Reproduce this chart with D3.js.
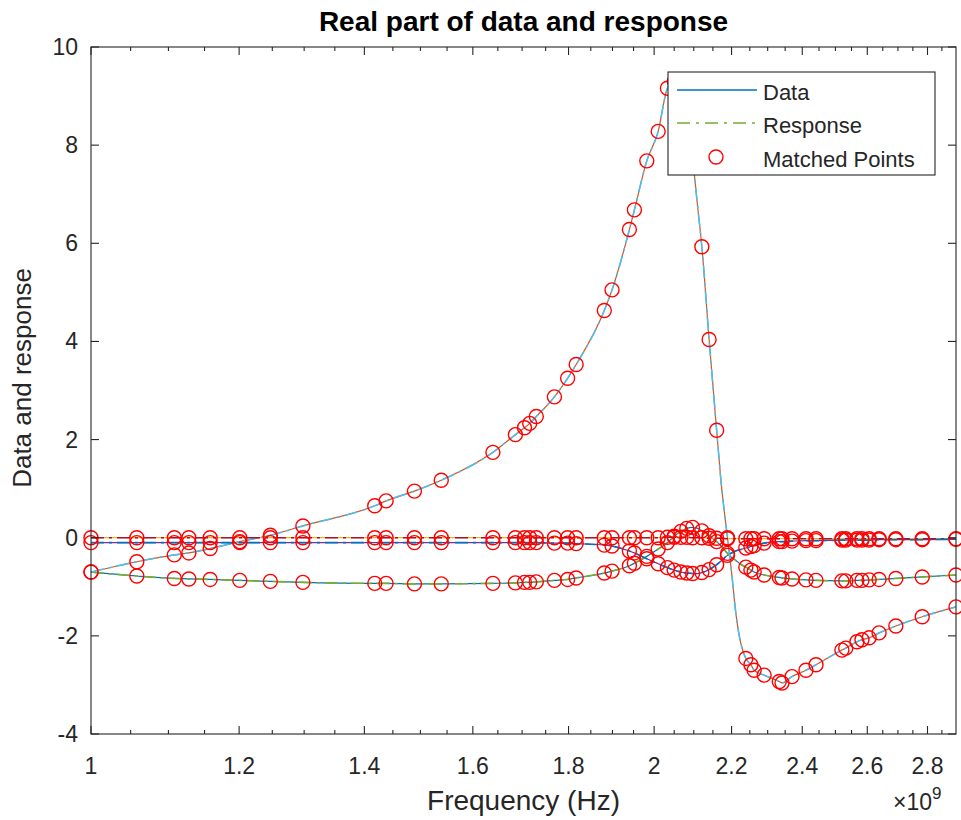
<!DOCTYPE html>
<html><head><meta charset="utf-8">
<script src="https://cdn.jsdelivr.net/npm/d3@7"></script>
<style>
body{margin:0;background:#fff}
text{font-family:"Liberation Sans",Arial,Helvetica,sans-serif}
</style>
</head><body>
<svg id="chart" width="961" height="820"></svg>
<script>
// ---- data (frequency in GHz, real parts) ----
const freqGHz = [1.000,1.058,1.108,1.128,1.158,1.201,1.247,1.298,1.418,1.438,1.489,1.539,1.640,1.686,1.705,1.716,1.730,1.769,1.798,1.817,1.881,1.899,1.940,1.952,1.982,2.010,2.033,2.050,2.067,2.082,2.097,2.110,2.121,2.140,2.160,2.171,2.189,2.200,2.211,2.225,2.239,2.253,2.262,2.290,2.333,2.341,2.370,2.411,2.441,2.520,2.532,2.567,2.583,2.606,2.638,2.693,2.782,2.900];
const matched = [1,1,1,1,1,1,1,1,1,1,1,1,1,1,1,1,1,1,1,1,1,1,1,1,1,1,1,1,1,1,1,0,1,1,1,0,1,0,0,0,1,1,1,1,1,1,1,1,1,1,1,1,1,1,1,1,1,1];
const s11 = [-0.70,-0.78,-0.83,-0.84,-0.85,-0.87,-0.89,-0.91,-0.93,-0.93,-0.94,-0.94,-0.93,-0.92,-0.91,-0.91,-0.90,-0.87,-0.85,-0.82,-0.72,-0.68,-0.57,-0.52,-0.38,-0.23,-0.10,0.03,0.13,0.19,0.21,0.19,0.14,0.04,-0.08,-0.16,-0.32,-0.40,-0.46,-0.54,-0.60,-0.66,-0.70,-0.76,-0.81,-0.82,-0.84,-0.86,-0.87,-0.88,-0.88,-0.87,-0.87,-0.86,-0.85,-0.83,-0.80,-0.76];
const s21 = [-0.70,-0.49,-0.35,-0.31,-0.22,-0.08,0.05,0.24,0.65,0.75,0.95,1.17,1.74,2.10,2.24,2.33,2.47,2.87,3.25,3.53,4.63,5.05,6.28,6.68,7.68,8.28,9.16,9.30,9.32,8.95,7.75,6.75,5.93,4.04,2.19,1.20,0.00,-0.70,-1.50,-2.15,-2.46,-2.59,-2.70,-2.80,-2.93,-2.96,-2.83,-2.70,-2.59,-2.29,-2.25,-2.12,-2.08,-2.04,-1.94,-1.80,-1.61,-1.41];
const s12 = [0.00,0.00,0.00,0.00,0.00,0.00,0.00,0.00,0.00,0.00,0.00,0.00,0.00,0.00,0.00,0.00,0.00,0.00,0.00,0.00,0.00,0.00,0.00,0.00,0.00,0.00,0.01,0.01,0.01,0.01,0.00,0.00,0.00,-0.01,-0.01,-0.01,-0.02,-0.02,-0.02,-0.02,-0.02,-0.02,-0.02,-0.02,-0.02,-0.02,-0.02,-0.02,-0.02,-0.02,-0.02,-0.02,-0.02,-0.02,-0.02,-0.02,-0.02,-0.02];
const s22 = [-0.10,-0.10,-0.10,-0.10,-0.10,-0.10,-0.10,-0.10,-0.10,-0.10,-0.10,-0.10,-0.10,-0.10,-0.10,-0.10,-0.10,-0.11,-0.11,-0.12,-0.15,-0.17,-0.27,-0.31,-0.43,-0.53,-0.61,-0.66,-0.70,-0.72,-0.73,-0.73,-0.71,-0.65,-0.55,-0.48,-0.36,-0.31,-0.27,-0.24,-0.21,-0.18,-0.16,-0.11,-0.08,-0.08,-0.07,-0.06,-0.06,-0.05,-0.05,-0.05,-0.05,-0.05,-0.04,-0.04,-0.04,-0.03];
const dataSeries = [s11, s21, s12, s22];
const dataColors = ["#0072BD","#D95319","#EDB120","#7E2F8E"];
const respColors = ["#77AC30","#4DBEEE","#A2142F","#0072BD"];
const xTicksGHz = [1,1.2,1.4,1.6,1.8,2,2.2,2.4,2.6,2.8];
const xTickLabels = ["1","1.2","1.4","1.6","1.8","2","2.2","2.4","2.6","2.8"];
const yTicks = [-4,-2,0,2,4,6,8,10];
const legendLabels = ["Data","Response","Matched Points"];

// ---- layout ----
const L = 91, R = 956, T = 47, B = 734;
const axisColor = "#262626";
const svg = d3.select("#chart");
const x = d3.scaleLog().domain([1e9, 2.9e9]).range([L, R]);
const y = d3.scaleLinear().domain([-4, 10]).range([B, T]);

svg.append("defs").append("clipPath").attr("id","clip")
  .append("rect").attr("x",L).attr("y",T).attr("width",R-L).attr("height",B-T);

const pts = s => freqGHz.map((f,i)=>({f:f*1e9, v:s[i], m:matched[i]}));
const line = d3.line().x(d=>x(d.f)).y(d=>y(d.v)).curve(d3.curveMonotoneX);

const plot = svg.append("g").attr("clip-path","url(#clip)");
dataSeries.forEach((s,i)=>{
  plot.append("path").attr("d", line(pts(s))).attr("fill","none")
    .attr("stroke", dataColors[i]).attr("stroke-width",1.2);
});
dataSeries.forEach((s,i)=>{
  plot.append("path").attr("d", line(pts(s))).attr("fill","none")
    .attr("stroke", respColors[i]).attr("stroke-width",1.6)
    .attr("stroke-dasharray","13,5,3,5");
});
const mk = svg.append("g");
dataSeries.forEach(s=>{
  mk.selectAll(null).data(pts(s).filter(d=>d.m)).enter().append("circle")
    .attr("cx",d=>x(d.f)).attr("cy",d=>y(d.v)).attr("r",7)
    .attr("fill","none").attr("stroke","#FF0000").attr("stroke-width",1.4);
});

// ---- axes box & ticks ----
const ax = svg.append("g").attr("stroke",axisColor).attr("stroke-width",1.1);
ax.append("rect").attr("x",L).attr("y",T).attr("width",R-L).attr("height",B-T).attr("fill","none");
const minor = d3.range(1.05, 2.9, 0.05).filter(v=>Math.abs(v*5-Math.round(v*5))>1e-6);
minor.forEach(v=>{
  const px = x(v*1e9);
  ax.append("line").attr("x1",px).attr("x2",px).attr("y1",B).attr("y2",B-4);
  ax.append("line").attr("x1",px).attr("x2",px).attr("y1",T).attr("y2",T+4);
});
xTicksGHz.forEach(v=>{
  const px = x(v*1e9);
  ax.append("line").attr("x1",px).attr("x2",px).attr("y1",B).attr("y2",B-8);
  ax.append("line").attr("x1",px).attr("x2",px).attr("y1",T).attr("y2",T+8);
});
yTicks.forEach(v=>{
  const py = y(v);
  ax.append("line").attr("x1",L).attr("x2",L+8).attr("y1",py).attr("y2",py);
  ax.append("line").attr("x1",R).attr("x2",R-8).attr("y1",py).attr("y2",py);
});
svg.append("g").selectAll("text").data(xTicksGHz).enter().append("text")
  .attr("x",d=>x(d*1e9)).attr("y",774).attr("text-anchor","middle")
  .attr("font-size",23).attr("fill",axisColor).text((d,i)=>xTickLabels[i]);
svg.append("g").selectAll("text").data(yTicks).enter().append("text")
  .attr("x",78).attr("y",d=>y(d)+8).attr("text-anchor","end")
  .attr("font-size",23).attr("fill",axisColor).text(d=>d);

// exponent
const ex = svg.append("text").attr("x",893).attr("y",810).attr("font-size",23).attr("fill",axisColor);
ex.append("tspan").text("\u00d710");
ex.append("tspan").attr("font-size",17).attr("dy",-11).text("9");

// labels
svg.append("text").attr("x",(L+R)/2).attr("y",31).attr("text-anchor","middle")
  .attr("font-size",28).attr("font-weight","bold").attr("fill","#000").text("Real part of data and response");
svg.append("text").attr("x",(L+R)/2).attr("y",810).attr("text-anchor","middle")
  .attr("font-size",28).attr("fill",axisColor).text("Frequency (Hz)");
svg.append("text").attr("transform",`translate(31,378) rotate(-90)`).attr("text-anchor","middle")
  .attr("font-size",26).attr("fill",axisColor).text("Data and response");

// legend
const lg = svg.append("g");
lg.append("rect").attr("x",668).attr("y",72).attr("width",267).attr("height",103)
  .attr("fill","#fff").attr("stroke",axisColor).attr("stroke-width",1.1);
const ly = [90, 123, 157];
lg.append("line").attr("x1",677).attr("x2",757).attr("y1",ly[0]).attr("y2",ly[0])
  .attr("stroke",dataColors[0]).attr("stroke-width",1.6);
lg.append("line").attr("x1",677).attr("x2",757).attr("y1",ly[1]).attr("y2",ly[1])
  .attr("stroke",respColors[0]).attr("stroke-width",1.6).attr("stroke-dasharray","13,6,3,6");
lg.append("circle").attr("cx",716).attr("cy",ly[2]).attr("r",7)
  .attr("fill","none").attr("stroke","#FF0000").attr("stroke-width",1.4);
legendLabels.forEach((t,i)=>{
  lg.append("text").attr("x",763).attr("y",ly[i]+10).attr("font-size",22)
    .attr("fill",axisColor).text(t);
});
</script>
</body></html>
